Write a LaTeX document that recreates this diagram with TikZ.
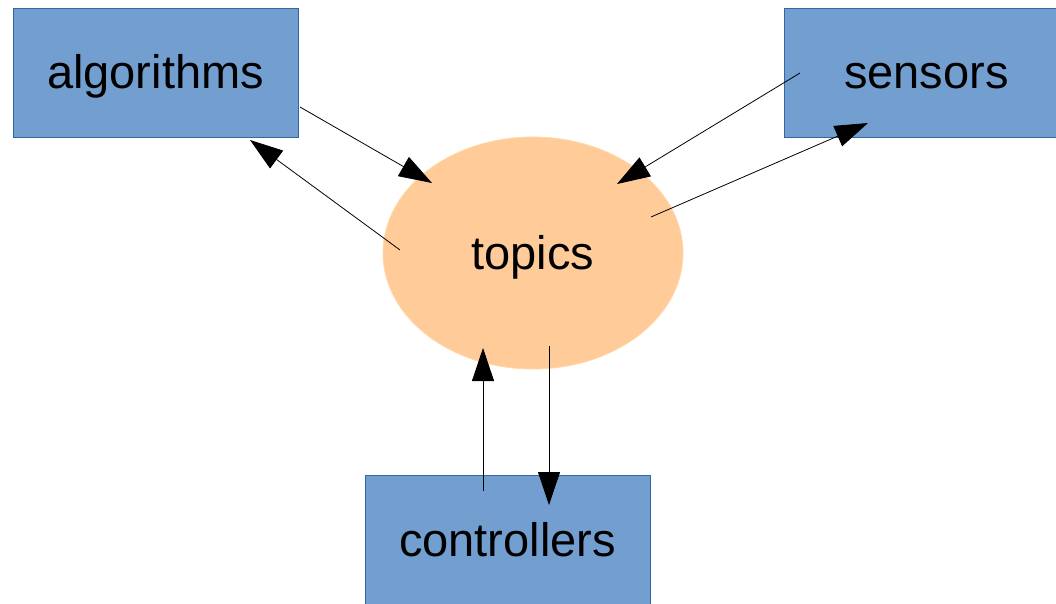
\documentclass[tikz,border=0pt]{standalone}
\usepackage{fontspec}
\setmainfont{Liberation Sans}
\usetikzlibrary{arrows.meta,shapes.geometric}
\definecolor{boxfill}{HTML}{729FCF}
\definecolor{boxline}{HTML}{3465A4}
\definecolor{topicfill}{HTML}{FFCC99}
\definecolor{topicline}{HTML}{FFD8A8}
\newcommand{\lowtext}[1]{\raisebox{-4pt}[\height][\depth]{#1}}
\tikzset{
  x=1pt, y=-1pt,
  boxnode/.style={draw=boxline, line width=0.8pt, fill=boxfill, minimum width=285pt, minimum height=129pt, inner sep=0pt, font=\fontsize{47}{52}\selectfont},
  topicnode/.style={ellipse, draw=topicline, line width=0.8pt, fill=topicfill, minimum width=300pt, minimum height=232pt, inner sep=0pt, font=\fontsize{47}{52}\selectfont},
  conn/.style={draw=black, line width=0.8pt, -{Triangle[length=33pt,width=22pt]}},
}
\begin{document}
\begin{tikzpicture}
\useasboundingbox (0,0) rectangle (1056,603);
\clip (0,0) rectangle (1056,603);
\node[boxnode] (alg) at (155.5,72.5) {\lowtext{algorithms}};
\node[boxnode] (sen) at (926.5,72.5) {\lowtext{sensors}};
\node[boxnode] (ctl) at (507.5,539.5) {controllers};
\node[topicnode] (top) at (533,253) {\lowtext{topics}};
% connector end points
\coordinate (a1) at (300,107);
\coordinate (a2) at (432,183);
\coordinate (b1) at (400,250);
\coordinate (b2) at (250,140);
\coordinate (c1) at (800,73);
\coordinate (c2) at (617,184);
\coordinate (d1) at (651,217);
\coordinate (d2) at (868,123);
\coordinate (e1) at (483,491);
\coordinate (e2) at (483,348);
\coordinate (f1) at (549,346);
\coordinate (f2) at (549,505);
\draw[conn] (a1) -- (a2);
\draw[conn] (b1) -- (b2);
\draw[conn] (c1) -- (c2);
\draw[conn] (d1) -- (d2);
\draw[conn] (e1) -- (e2);
\draw[conn] (f1) -- (f2);
\end{tikzpicture}
\end{document}
